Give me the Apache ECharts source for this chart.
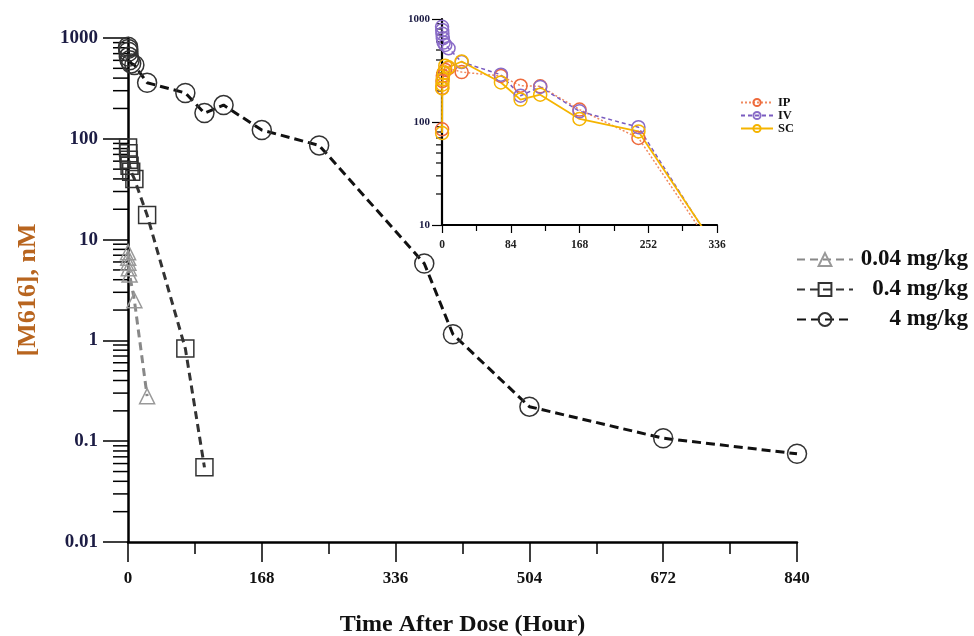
<!DOCTYPE html>
<html>
<head>
<meta charset="utf-8">
<script src="https://cdn.jsdelivr.net/npm/echarts@6/dist/echarts.min.js"></script>
<style>
  html, body { margin: 0; padding: 0; background: #fff; }
  #chart { width: 974px; height: 636px; }
</style>
</head>
<body>
<div id="chart"></div>
<script>
// main plot: concentration vs time, three dose levels
const tLow = [0.083, 0.25, 0.5, 1, 2, 8, 24];
const cLow = [7.5, 6.6, 5.9, 5.2, 4.5, 2.5, 0.28];
const tMid = [0.083, 0.5, 1, 2, 4, 8, 24, 72, 96];
const cMid = [82, 72, 62, 54, 47, 40, 17.5, 0.83, 0.055];
const tHigh = [0.083, 0.25, 0.5, 1, 2, 4, 8, 24, 72, 96, 120, 168, 240, 372, 408, 504, 672, 840];
const cHigh = [820, 780, 730, 650, 600, 560, 540, 360, 285, 180, 216, 122, 86, 5.8, 1.15, 0.22, 0.107, 0.075];
const doseNames = ['0.04 mg/kg', '0.4 mg/kg', '4 mg/kg'];

// inset: 4 mg/kg by route
const tInset = [0.083, 0.25, 0.5, 1, 2, 4, 8, 24, 72, 96, 120, 168, 240, 336];
const cIP = [85, 214, 250, 280, 300, 320, 334, 305, 280, 225, 222, 132, 70, 5.2];
const cIV = [840, 780, 720, 650, 590, 560, 520, 382, 288, 180, 219, 127, 89, 5.6];
const cSC = [78, 212, 230, 260, 300, 352, 340, 387, 242, 165, 184, 107, 81, 5.8];
const routeNames = ['IP', 'IV', 'SC'];

const mainYTicks = [0.01, 0.1, 1, 10, 100, 1000];
const insetYTicks = [10, 100, 1000];

function minorTicks(decades) {
  const out = [];
  for (let i = 0; i < decades.length - 1; i++) {
    for (let k = 2; k <= 9; k++) out.push([0, +(decades[i] * k).toPrecision(4)]);
  }
  return out;
}

const serif = 'Liberation Serif';
const chart = echarts.init(document.getElementById('chart'));

function zip(t, c) { return t.map((x, i) => [x, c[i]]); }

function tickSeries(xi, yi, ticks, len, w) {
  return {
    type: 'custom',
    xAxisIndex: xi,
    yAxisIndex: yi,
    silent: true,
    clip: false,
    data: minorTicks(ticks),
    renderItem: function (params, api) {
      const p = api.coord([0, api.value(1)]);
      return {
        type: 'line',
        shape: { x1: p[0] - len, y1: p[1], x2: p[0], y2: p[1] },
        style: { stroke: '#000', lineWidth: w }
      };
    }
  };
}

const fmt = v => String(Number((+v).toPrecision(6)));

chart.setOption({
  animation: false,
  backgroundColor: '#fff',
  grid: [
    { left: 128, right: 177, top: 38, bottom: 94, outerBoundsMode: 'none', containLabel: false },
    { left: 442, top: 19, width: 275, height: 206, outerBoundsMode: 'none', containLabel: false }
  ],
  xAxis: [
    {
      type: 'value', gridIndex: 0, min: 0, max: 840, interval: 168,
      name: 'Time After Dose (Hour)', nameLocation: 'middle', nameGap: 71,
      nameTextStyle: { fontFamily: serif, fontWeight: 'bold', fontSize: 24, color: '#111' },
      axisLine: { lineStyle: { color: '#000', width: 2.5 } },
      axisTick: { length: 20, lineStyle: { color: '#000', width: 1.5 } },
      minorTick: { show: true, splitNumber: 2, length: 12, lineStyle: { color: '#000', width: 1.5 } },
      axisLabel: { fontFamily: serif, fontWeight: 'bold', fontSize: 17, color: '#111', margin: 28 },
      splitLine: { show: false }
    },
    {
      type: 'value', gridIndex: 1, min: 0, max: 336, interval: 84,
      axisLine: { lineStyle: { color: '#000', width: 2.2 } },
      axisTick: { length: 8, lineStyle: { color: '#000', width: 1.2 } },
      minorTick: { show: true, splitNumber: 2, length: 6, lineStyle: { color: '#000', width: 1.2 } },
      axisLabel: { fontFamily: serif, fontWeight: 'bold', fontSize: 11.5, color: '#222', margin: 14 },
      splitLine: { show: false }
    }
  ],
  yAxis: [
    {
      type: 'log', gridIndex: 0, min: 0.01, max: 1000, logBase: 10,
      name: '[M616], nM', nameLocation: 'middle', nameGap: 87,
      nameTextStyle: { fontFamily: serif, fontWeight: 'bold', fontSize: 26, color: '#b8651f' },
      axisLine: { onZero: false, lineStyle: { color: '#000', width: 2.5 } },
      axisTick: { length: 25, lineStyle: { color: '#000', width: 1.5 } },
      axisLabel: { fontFamily: serif, fontWeight: 'bold', fontSize: 19, color: '#1c1c44', margin: 30, formatter: fmt },
      splitLine: { show: false }
    },
    {
      type: 'log', gridIndex: 1, min: 10, max: 1000, logBase: 10,
      axisLine: { onZero: false, lineStyle: { color: '#000', width: 2.2 } },
      axisTick: { length: 10, lineStyle: { color: '#000', width: 1.2 } },
      axisLabel: { fontFamily: serif, fontWeight: 'bold', fontSize: 11, color: '#1c1c44', margin: 12, formatter: fmt },
      splitLine: { show: false }
    }
  ],
  legend: [
    {
      data: doseNames,
      orient: 'vertical', right: 1, top: 243,
      itemWidth: 56, itemHeight: 16, itemGap: 7,
      formatter: name => '{a|' + name + '}',
      textStyle: {
        fontFamily: serif, fontWeight: 'bold', fontSize: 23, color: '#111',
        rich: { a: { width: 110, align: 'right', fontFamily: serif, fontWeight: 'bold', fontSize: 23, color: '#111' } }
      }
    },
    {
      data: routeNames,
      orient: 'vertical', left: 735, top: 91,
      itemWidth: 32, itemHeight: 9, itemGap: 0,
      textStyle: { fontFamily: serif, fontWeight: 'bold', fontSize: 12.5, color: '#111' }
    }
  ],
  series: [
    tickSeries(0, 0, mainYTicks, 15, 1.5),
    tickSeries(1, 1, insetYTicks, 6, 1.2),
    {
      name: doseNames[0], type: 'line', xAxisIndex: 0, yAxisIndex: 0,
      data: zip(tLow, cLow),
      symbol: 'triangle', symbolSize: 15,
      itemStyle: { color: 'rgba(255,255,255,0)', borderColor: '#999', borderWidth: 1.5 },
      lineStyle: { color: '#888', width: 3, type: [8, 5] }
    },
    {
      name: doseNames[1], type: 'line', xAxisIndex: 0, yAxisIndex: 0,
      data: zip(tMid, cMid),
      symbol: 'rect', symbolSize: 17,
      itemStyle: { color: 'rgba(255,255,255,0)', borderColor: '#333', borderWidth: 1.5 },
      lineStyle: { color: '#333', width: 3, type: [8, 5] }
    },
    {
      name: doseNames[2], type: 'line', xAxisIndex: 0, yAxisIndex: 0,
      data: zip(tHigh, cHigh),
      symbol: 'circle', symbolSize: 19,
      itemStyle: { color: 'rgba(255,255,255,0)', borderColor: '#333', borderWidth: 1.5 },
      lineStyle: { color: '#111', width: 3, type: [9, 5] }
    },
    {
      name: 'IP', type: 'line', xAxisIndex: 1, yAxisIndex: 1, clip: true,
      data: zip(tInset, cIP),
      symbol: 'circle', symbolSize: 13,
      itemStyle: { color: 'rgba(255,255,255,0)', borderColor: '#ee6a3c', borderWidth: 1.5 },
      lineStyle: { color: '#f08a60', width: 1.5, type: [2, 2] }
    },
    {
      name: 'IV', type: 'line', xAxisIndex: 1, yAxisIndex: 1, clip: true,
      data: zip(tInset, cIV),
      symbol: 'circle', symbolSize: 13,
      itemStyle: { color: 'rgba(255,255,255,0)', borderColor: '#8a6cc8', borderWidth: 1.5 },
      lineStyle: { color: '#7a5cc0', width: 1.5, type: [4, 3] }
    },
    {
      name: 'SC', type: 'line', xAxisIndex: 1, yAxisIndex: 1, clip: true,
      data: zip(tInset, cSC),
      symbol: 'circle', symbolSize: 13,
      itemStyle: { color: 'rgba(255,255,255,0)', borderColor: '#f5b400', borderWidth: 1.5 },
      lineStyle: { color: '#f5b400', width: 1.8 }
    }
  ]
});
</script>
</body>
</html>
